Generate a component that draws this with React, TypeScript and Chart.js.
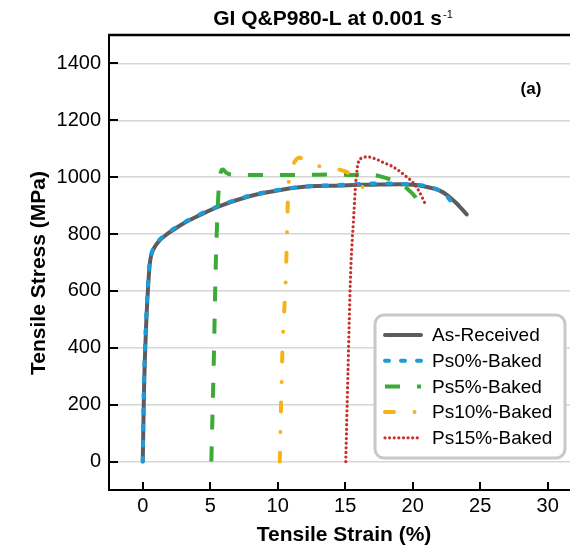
import { useEffect, useRef } from "react";
import { Chart, registerables } from "chart.js";

Chart.register(...registerables);

const FONT = "'Liberation Sans', Arial, Helvetica, sans-serif";

const titleMain = "GI Q&P980-L at 0.001 s";
const titleSup = "-1";
const panelTag = "(a)";
const xTitle = "Tensile Strain (%)";
const yTitle = "Tensile Stress (MPa)";

const xMin = -2.5;
const xMax = 31.65;
const yMin = -100;
const yMax = 1500;
const xTickValues = [0, 5, 10, 15, 20, 25, 30];
const yTickValues = [0, 200, 400, 600, 800, 1000, 1200, 1400];

const seriesLabels = ["As-Received", "Ps0%-Baked", "Ps5%-Baked", "Ps10%-Baked", "Ps15%-Baked"];
const seriesColors = ["#5c5c60", "#1b9bd8", "#3aab36", "#f7b21a", "#c8302c"];

const asReceivedStrain = [0, 0.1, 0.27, 0.4, 0.52, 0.65, 0.85, 1.2, 1.75, 2.5, 3.2, 4.2, 5.7, 7.9, 10.4, 12.4, 14.3, 16, 17.5, 19, 20, 20.8, 21.3, 22, 22.5, 23.2, 23.6, 24.0];
const asReceivedStress = [0, 265, 500, 617, 695, 730, 752, 775, 798, 822, 842, 866, 898, 933, 957, 968, 970, 973, 974, 975, 973, 968, 963, 953, 939, 910, 890, 869];

const ps0Strain = [0, 0.08, 0.25, 0.38, 0.5, 0.65, 0.85, 1.2, 1.75, 2.5, 4.2, 5.7, 7.9, 10.4, 12.4, 14.3, 16, 17.5, 19, 20, 21.3, 22, 22.5, 23.2];
const ps0Stress = [0, 265, 500, 617, 697, 733, 755, 778, 800, 825, 869, 900, 935, 958, 968, 972, 976, 978, 977, 974, 966, 952, 935, 888];

const ps5Strain = [5.08, 5.26, 5.4, 5.58, 5.72, 5.85, 5.95, 6.2, 6.6, 8, 10, 12, 14, 15.2, 16.6, 17.6, 18.8, 19.65, 20.2, 20.6];
const ps5Stress = [0, 350, 675, 920, 1000, 1025, 1027, 1015, 1009, 1008, 1008, 1008, 1010, 1008, 1010, 1003, 983, 957, 930, 893];

const ps10Strain = [10.15, 10.35, 10.6, 10.77, 10.9, 11.2, 11.6, 12.0, 12.5, 13.2, 13.9, 14.6, 15.2, 15.6, 15.9, 16.4, 16.9];
const ps10Stress = [0, 394, 652, 945, 1015, 1050, 1068, 1062, 1045, 1038, 1034, 1026, 1016, 1003, 985, 960, 933];

const ps15Strain = [15.04, 15.2, 15.4, 15.6, 15.8, 16.0, 16.3, 16.6, 17.2, 17.8, 18.4, 19.0, 19.5, 20.0, 20.5, 21.0];
const ps15Stress = [0, 312, 664, 840, 992, 1056, 1068, 1072, 1065, 1052, 1040, 1022, 1003, 982, 948, 898];

const toPoints = (xs: number[], ys: number[]) => xs.map((x, i) => ({ x, y: ys[i] }));

const overlayPlugin = {
  id: "overlay",
  afterDraw(chart: any) {
    const { ctx, chartArea: a, scales } = chart;
    const xs = scales.x;
    const ys = scales.y;
    ctx.save();
    // top frame line
    ctx.strokeStyle = "#000";
    ctx.lineWidth = 2.5;
    ctx.beginPath();
    ctx.moveTo(a.left - 1, a.top);
    ctx.lineTo(a.right, a.top);
    ctx.stroke();
    // inward ticks
    ctx.lineWidth = 2;
    ctx.beginPath();
    yTickValues.forEach((v) => {
      const p = Math.round(ys.getPixelForValue(v));
      ctx.moveTo(a.left, p);
      ctx.lineTo(a.left + 9, p);
    });
    xTickValues.forEach((v) => {
      const p = Math.round(xs.getPixelForValue(v));
      ctx.moveTo(p, a.bottom);
      ctx.lineTo(p, a.bottom - 8);
    });
    ctx.stroke();

    // main title with superscript
    ctx.fillStyle = "#000";
    ctx.textBaseline = "alphabetic";
    ctx.textAlign = "left";
    ctx.font = `bold 21px ${FONT}`;
    const mainW = ctx.measureText(titleMain).width;
    ctx.font = `11px ${FONT}`;
    const supW = ctx.measureText(titleSup).width;
    const tcx = 333;
    const sx = tcx - (mainW + supW + 1) / 2;
    ctx.font = `bold 21px ${FONT}`;
    ctx.fillText(titleMain, sx, 25);
    ctx.font = `11px ${FONT}`;
    ctx.fillText(titleSup, sx + mainW + 1, 18);

    // axis titles
    ctx.font = `bold 21px ${FONT}`;
    ctx.textAlign = "center";
    ctx.fillText(xTitle, 344, 541);
    ctx.save();
    ctx.translate(45, 273);
    ctx.rotate(-Math.PI / 2);
    ctx.fillText(yTitle, 0, 0);
    ctx.restore();

    // panel tag
    ctx.font = `bold 17px ${FONT}`;
    ctx.fillText(panelTag, 531, 94);

    // legend
    const lx = 375, ly = 315, lw = 190, lh = 143;
    ctx.fillStyle = "#fff";
    ctx.strokeStyle = "#c8c8c8";
    ctx.lineWidth = 3;
    ctx.beginPath();
    ctx.roundRect(lx, ly, lw, lh, 9);
    ctx.fill();
    ctx.stroke();
    chart.data.datasets.forEach((ds: any, i: number) => {
      const y = 335 + i * 25.7;
      ctx.save();
      ctx.strokeStyle = ds.borderColor;
      ctx.lineWidth = ds.borderWidth;
      ctx.setLineDash(ds.borderDash || []);
      ctx.lineCap = ds.borderCapStyle || "butt";
      ctx.beginPath();
      ctx.moveTo(385, y);
      ctx.lineTo(421, y);
      ctx.stroke();
      ctx.restore();
      ctx.fillStyle = "#000";
      ctx.font = `19px ${FONT}`;
      ctx.textBaseline = "middle";
      ctx.textAlign = "left";
      ctx.fillText(ds.label, 432, y + 1);
    });
    ctx.restore();
  },
};

export default function App() {
  const ref = useRef<HTMLCanvasElement>(null);
  useEffect(() => {
    document.body.style.margin = "0";
    const canvas = ref.current!;
    const common = { pointRadius: 0, pointHoverRadius: 0, fill: false, cubicInterpolationMode: "monotone" as const };
    const chart = new Chart(canvas, {
      type: "line",
      data: {
        datasets: [
          { ...common, label: seriesLabels[0], data: toPoints(asReceivedStrain, asReceivedStress), borderColor: seriesColors[0], borderWidth: 4, borderCapStyle: "round", order: 5 },
          { ...common, label: seriesLabels[1], data: toPoints(ps0Strain, ps0Stress), borderColor: seriesColors[1], borderWidth: 4, borderDash: [4, 12], borderCapStyle: "round", order: 4 },
          { ...common, label: seriesLabels[2], data: toPoints(ps5Strain, ps5Stress), borderColor: seriesColors[2], borderWidth: 4, borderDash: [15, 17], borderCapStyle: "butt", order: 3 },
          { ...common, label: seriesLabels[3], data: toPoints(ps10Strain, ps10Stress), borderColor: seriesColors[3], borderWidth: 4, borderDash: [9, 20.5, 0.01, 20.5], borderCapStyle: "round", order: 2 },
          { ...common, label: seriesLabels[4], data: toPoints(ps15Strain, ps15Stress), borderColor: seriesColors[4], borderWidth: 3.2, borderDash: [0.01, 4.6], borderCapStyle: "round", order: 1 },
        ] as any,
      },
      options: {
        animation: false,
        responsive: false,
        devicePixelRatio: 1,
        layout: { padding: { top: 35, right: 0, bottom: 0, left: 0 } },
        plugins: { legend: { display: false }, title: { display: false }, tooltip: { enabled: false } },
        scales: {
          x: {
            type: "linear",
            min: xMin,
            max: xMax,
            afterBuildTicks: (axis: any) => {
              axis.ticks = xTickValues.map((v) => ({ value: v }));
            },
            afterFit: (scale: any) => {
              scale.height = 58;
            },
            grid: { display: false, drawTicks: false },
            border: { display: true, color: "#000", width: 2 },
            ticks: { color: "#000", font: { family: FONT, size: 20 }, padding: 4, maxRotation: 0, autoSkip: false, callback: (v: any) => String(v) },
          },
          y: {
            type: "linear",
            min: yMin,
            max: yMax,
            afterBuildTicks: (axis: any) => {
              axis.ticks = yTickValues.map((v) => ({ value: v }));
            },
            afterFit: (scale: any) => {
              scale.width = 109;
            },
            grid: { display: true, drawTicks: false, color: "#d6d6d6", lineWidth: 1.5 },
            border: { display: true, color: "#000", width: 2 },
            ticks: { color: "#000", font: { family: FONT, size: 20 }, padding: 8, autoSkip: false, callback: (v: any) => String(v) },
          },
        },
      } as any,
      plugins: [overlayPlugin],
    });
    return () => chart.destroy();
  }, []);
  return (
    <div style={{ width: 570, height: 548 }}>
      <canvas ref={ref} width={570} height={548} style={{ display: "block" }} />
    </div>
  );
}
